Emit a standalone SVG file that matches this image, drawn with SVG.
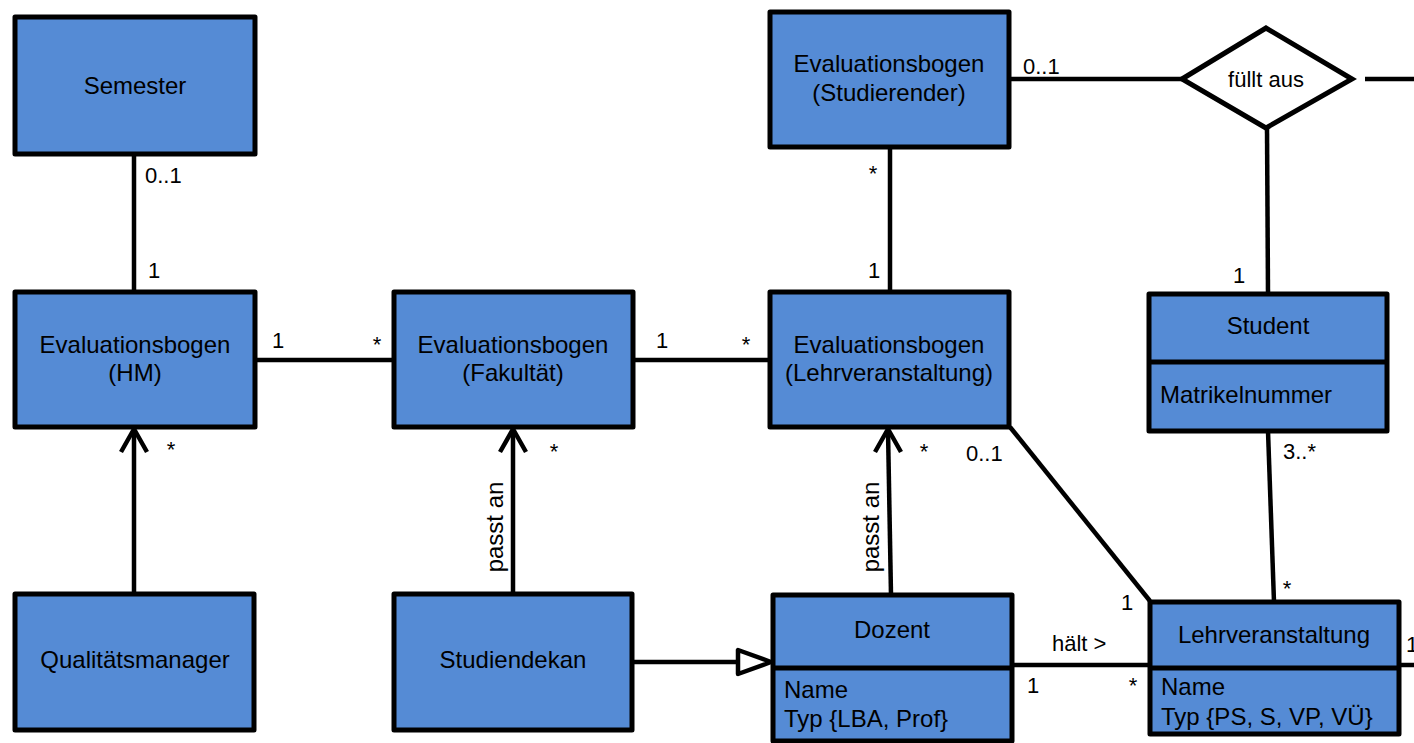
<svg xmlns="http://www.w3.org/2000/svg" width="1414" height="743" viewBox="0 0 1414 743">
<style>
.box{fill:#558bd5;stroke:#000;stroke-width:5;stroke-linejoin:round}
.div{stroke:#000;stroke-width:5}
.ln{stroke:#000;stroke-width:4.5;fill:none;stroke-linecap:butt}
.t{font-family:"Liberation Sans",Arial,sans-serif;font-size:24px;fill:#000}
.c{text-anchor:middle}
.l{font-family:"Liberation Sans",Arial,sans-serif;font-size:22px;fill:#000}
</style>
<rect width="1414" height="743" fill="#fff"/>
<g id="connectors">
<line class="ln" x1="134" y1="154" x2="134" y2="292"/>
<line class="ln" x1="254" y1="360" x2="393" y2="360"/>
<line class="ln" x1="633" y1="360" x2="770" y2="360"/>
<line class="ln" x1="890" y1="147" x2="890" y2="292"/>
<line class="ln" x1="1009" y1="79" x2="1182" y2="79"/>
<line class="ln" x1="1365" y1="79" x2="1414" y2="79"/>
<line class="ln" x1="1267" y1="128" x2="1268" y2="294"/>
<line class="ln" x1="1268" y1="431" x2="1274" y2="602"/>
<line class="ln" x1="1010" y1="427" x2="1150" y2="601"/>
<line class="ln" x1="1012" y1="665" x2="1150" y2="665"/>
<line class="ln" x1="1399" y1="665" x2="1414" y2="665"/>
<line class="ln" x1="134" y1="594" x2="134" y2="430"/>
<polyline class="ln" points="121,452 134,429 147,452" stroke-linejoin="round" stroke-linecap="round"/>
<line class="ln" x1="513" y1="594" x2="513" y2="430"/>
<polyline class="ln" points="500,452 513,429 526,452" stroke-linejoin="round" stroke-linecap="round"/>
<line class="ln" x1="891" y1="595" x2="888" y2="430"/>
<polyline class="ln" points="875,452 888,429 901,452" stroke-linejoin="round" stroke-linecap="round"/>
<line class="ln" x1="632" y1="662" x2="738" y2="662"/>
<polygon points="738,650 738,674 771,662" fill="#fff" stroke="#000" stroke-width="4.5" stroke-linejoin="round"/>
<text class="t" transform="translate(503,527) rotate(-90)" text-anchor="middle">passt an</text>
<text class="t" transform="translate(879,527) rotate(-90)" text-anchor="middle">passt an</text>
<text class="l" x="145" y="183">0..1</text>
<text class="l" x="148" y="278">1</text>
<text class="l" x="272" y="348">1</text>
<text class="l c" x="377" y="352">*</text>
<text class="l" x="656" y="348">1</text>
<text class="l c" x="746" y="352">*</text>
<text class="l c" x="171" y="457">*</text>
<text class="l c" x="554" y="459">*</text>
<text class="l c" x="924" y="459">*</text>
<text class="l" x="966" y="461">0..1</text>
<text class="l c" x="873" y="181">*</text>
<text class="l" x="868" y="278">1</text>
<text class="l" x="1023" y="74">0..1</text>
<text class="l" x="1233" y="283">1</text>
<text class="l" x="1283" y="459">3..*</text>
<text class="l c" x="1287" y="596">*</text>
<text class="l" x="1121" y="610">1</text>
<text class="l" x="1052" y="651">hält &gt;</text>
<text class="l" x="1027" y="693">1</text>
<text class="l c" x="1133" y="693">*</text>
<text class="l" x="1406" y="652">1</text>
</g>
<g id="diamond">
<polygon points="1182,79 1266,28 1352,79 1266,128" fill="#fff" stroke="#000" stroke-width="5" stroke-linejoin="miter"/>
<text class="l c" x="1266" y="87">füllt aus</text>
</g>
<g id="semester">
<rect class="box" x="15" y="17" width="240" height="137"/>
<text class="t c" x="135" y="94">Semester</text>
</g>
<g id="eval-hm">
<rect class="box" x="15" y="292" width="240" height="135"/>
<text class="t c" x="135" y="353">Evaluationsbogen</text>
<text class="t c" x="135" y="381">(HM)</text>
</g>
<g id="eval-fakultaet">
<rect class="box" x="394" y="292" width="239" height="135"/>
<text class="t c" x="513" y="353">Evaluationsbogen</text>
<text class="t c" x="513" y="381">(Fakultät)</text>
</g>
<g id="eval-lehrveranstaltung">
<rect class="box" x="770" y="292" width="239" height="135"/>
<text class="t c" x="889" y="353">Evaluationsbogen</text>
<text class="t c" x="889" y="381">(Lehrveranstaltung)</text>
</g>
<g id="eval-studierender">
<rect class="box" x="770" y="12" width="239" height="135"/>
<text class="t c" x="889" y="72">Evaluationsbogen</text>
<text class="t c" x="889" y="101">(Studierender)</text>
</g>
<g id="student">
<rect class="box" x="1149" y="294" width="238" height="137"/>
<line class="div" x1="1149" y1="362" x2="1387" y2="362"/>
<text class="t c" x="1268" y="334">Student</text>
<text class="t" x="1160" y="403">Matrikelnummer</text>
</g>
<g id="qualitaetsmanager">
<rect class="box" x="15" y="594" width="239" height="136"/>
<text class="t c" x="135" y="668">Qualitätsmanager</text>
</g>
<g id="studiendekan">
<rect class="box" x="394" y="594" width="238" height="136"/>
<text class="t c" x="513" y="668">Studiendekan</text>
</g>
<g id="dozent">
<rect class="box" x="773" y="595" width="239" height="146"/>
<line class="div" x1="773" y1="668" x2="1012" y2="668"/>
<text class="t c" x="892" y="638">Dozent</text>
<text class="t" x="784" y="698">Name</text>
<text class="t" x="784" y="727">Typ {LBA, Prof}</text>
</g>
<g id="lehrveranstaltung">
<rect class="box" x="1150" y="602" width="249" height="132"/>
<line class="div" x1="1150" y1="668" x2="1399" y2="668"/>
<text class="t c" x="1274" y="643">Lehrveranstaltung</text>
<text class="t" x="1161" y="695">Name</text>
<text class="t" x="1161" y="725">Typ {PS, S, VP, VÜ}</text>
</g>
</svg>
